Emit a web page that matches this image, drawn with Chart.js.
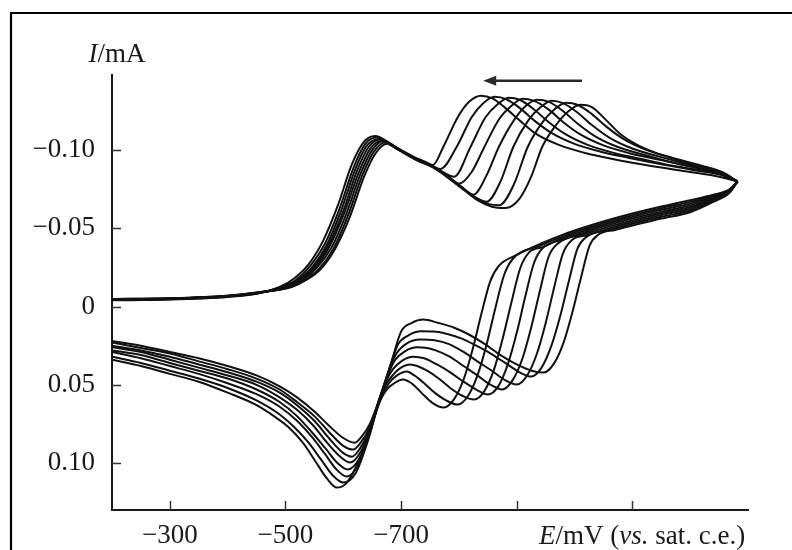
<!DOCTYPE html>
<html><head><meta charset="utf-8">
<script src="https://cdn.jsdelivr.net/npm/chart.js@4.4.0/dist/chart.umd.min.js"></script>
<style>html,body{margin:0;padding:0;background:#fff;}canvas{display:block;}</style>
</head><body>
<canvas id="c" width="792" height="550"></canvas>
<script>
// Tick values and labels
const xTicks = [-300, -500, -700, -900, -1100];
const xTickLabels = ['\u2212300', '\u2212500', '\u2212700', '', ''];
const yTicks = [-0.10, -0.05, 0, 0.05, 0.10];
const yTickLabels = ['\u22120.10', '\u22120.05', '0', '0.05', '0.10'];

// Potential E (mV vs. sat. c.e.) and current I (mA), one forward and one reverse sweep per cycle
const cycle1Fwd = [[-200,-0.0049],[-300,-0.0054],[-400,-0.0070],[-450,-0.0090],[-511,-0.0125],[-536,-0.017],[-561,-0.024],[-586,-0.037],[-611,-0.057],[-636,-0.083],[-656,-0.098],[-676,-0.104],[-698,-0.100],[-727,-0.094],[-757,-0.089],[-782,-0.082],[-807,-0.075],[-832,-0.068],[-857,-0.0638],[-880,-0.063],[-905,-0.069],[-925,-0.083],[-944,-0.102],[-970,-0.117],[-990,-0.125],[-1010,-0.129],[-1030,-0.1275],[-1055,-0.119],[-1080,-0.110],[-1110,-0.103],[-1150,-0.097],[-1200,-0.091],[-1245,-0.086],[-1282,-0.080]];
const cycle1Rev = [[-1282,-0.080],[-1268,-0.0727],[-1240,-0.0669],[-1200,-0.0603],[-1150,-0.0563],[-1100,-0.0518],[-1070,-0.049],[-1041,-0.0459],[-1026,-0.039],[-1011,-0.0183],[-996,0.004],[-981,0.023],[-964,0.0366],[-946,0.0422],[-926,0.041],[-900,0.037],[-872,0.031],[-845,0.024],[-818,0.018],[-792,0.0135],[-765,0.0105],[-738,0.0083],[-718,0.0105],[-700,0.016],[-682,0.037],[-664,0.0575],[-646,0.075],[-632,0.083],[-620,0.087],[-600,0.084],[-575,0.076],[-550,0.067],[-520,0.058],[-490,0.051],[-450,0.044],[-400,0.038],[-350,0.033],[-300,0.029],[-250,0.025],[-200,0.022]];

const cycle2Fwd = [[-200,-0.0048],[-300,-0.0053],[-400,-0.0069],[-450,-0.0089],[-508,-0.0125],[-533,-0.017],[-558,-0.024],[-583,-0.037],[-608,-0.058],[-633,-0.084],[-653,-0.099],[-673,-0.105],[-696,-0.100],[-725,-0.094],[-755,-0.089],[-780,-0.083],[-805,-0.076],[-830,-0.069],[-852,-0.0655],[-870,-0.0648],[-895,-0.078],[-919,-0.102],[-945,-0.118],[-965,-0.126],[-985,-0.1303],[-1005,-0.129],[-1030,-0.123],[-1055,-0.115],[-1085,-0.107],[-1125,-0.100],[-1170,-0.095],[-1220,-0.090],[-1255,-0.086],[-1282,-0.080]];
const cycle2Rev = [[-1282,-0.080],[-1268,-0.073],[-1240,-0.0675],[-1200,-0.0614],[-1150,-0.0574],[-1100,-0.0529],[-1060,-0.0489],[-1020,-0.0444],[-1005,-0.037],[-990,-0.016],[-975,0.0064],[-960,0.025],[-943,0.039],[-925,0.0447],[-905,0.042],[-880,0.036],[-855,0.030],[-830,0.025],[-805,0.0205],[-780,0.0175],[-757,0.016],[-735,0.0158],[-712,0.0185],[-695,0.024],[-682,0.037],[-664,0.0575],[-646,0.077],[-630,0.087],[-617,0.0914],[-600,0.089],[-575,0.080],[-550,0.070],[-520,0.061],[-490,0.053],[-450,0.046],[-400,0.040],[-350,0.035],[-300,0.030],[-250,0.0265],[-200,0.023]];

const cycle3Fwd = [[-200,-0.0047],[-300,-0.0052],[-400,-0.0068],[-450,-0.0088],[-505,-0.0125],[-530,-0.017],[-555,-0.025],[-580,-0.038],[-605,-0.059],[-630,-0.085],[-650,-0.100],[-670,-0.106],[-694,-0.101],[-723,-0.095],[-753,-0.090],[-778,-0.084],[-803,-0.077],[-828,-0.070],[-848,-0.067],[-872,-0.080],[-894,-0.102],[-920,-0.119],[-940,-0.127],[-960,-0.1316],[-980,-0.130],[-1005,-0.124],[-1030,-0.116],[-1060,-0.108],[-1100,-0.101],[-1145,-0.096],[-1195,-0.091],[-1240,-0.087],[-1282,-0.080]];
const cycle3Rev = [[-1282,-0.080],[-1268,-0.0734],[-1240,-0.0682],[-1200,-0.0625],[-1150,-0.0585],[-1100,-0.054],[-1060,-0.050],[-1020,-0.0455],[-995,-0.0424],[-980,-0.034],[-965,-0.0127],[-950,0.0106],[-935,0.030],[-918,0.044],[-900,0.0498],[-880,0.047],[-857,0.041],[-832,0.035],[-808,0.029],[-783,0.024],[-758,0.0215],[-733,0.021],[-710,0.0235],[-692,0.030],[-680,0.040],[-664,0.0575],[-646,0.078],[-630,0.090],[-615,0.0959],[-598,0.093],[-575,0.084],[-550,0.073],[-520,0.063],[-490,0.055],[-450,0.048],[-400,0.042],[-350,0.037],[-300,0.032],[-250,0.028],[-200,0.025]];

const cycle4Fwd = [[-200,-0.0046],[-300,-0.0051],[-400,-0.0067],[-450,-0.0087],[-502,-0.0125],[-527,-0.017],[-552,-0.025],[-577,-0.039],[-602,-0.060],[-627,-0.086],[-647,-0.101],[-667,-0.106],[-692,-0.101],[-722,-0.095],[-752,-0.090],[-777,-0.084],[-802,-0.077],[-825,-0.0715],[-848,-0.084],[-869,-0.102],[-895,-0.119],[-915,-0.128],[-935,-0.1322],[-955,-0.131],[-980,-0.125],[-1005,-0.117],[-1035,-0.109],[-1075,-0.102],[-1120,-0.097],[-1170,-0.092],[-1220,-0.088],[-1255,-0.085],[-1282,-0.080]];
const cycle4Rev = [[-1282,-0.080],[-1268,-0.0737],[-1240,-0.0689],[-1200,-0.0636],[-1150,-0.0596],[-1100,-0.0551],[-1060,-0.0511],[-1020,-0.0466],[-970,-0.040],[-955,-0.0317],[-940,-0.010],[-925,0.0134],[-910,0.033],[-893,0.047],[-875,0.053],[-855,0.050],[-832,0.044],[-808,0.038],[-784,0.032],[-760,0.028],[-745,0.0265],[-728,0.026],[-707,0.0285],[-690,0.034],[-678,0.043],[-664,0.0575],[-646,0.079],[-630,0.093],[-612,0.0997],[-595,0.096],[-572,0.087],[-548,0.076],[-520,0.066],[-490,0.058],[-450,0.050],[-400,0.044],[-350,0.039],[-300,0.034],[-250,0.029],[-200,0.026]];

const cycle5Fwd = [[-200,-0.0045],[-300,-0.005],[-400,-0.0066],[-450,-0.0086],[-499,-0.0125],[-524,-0.017],[-549,-0.025],[-574,-0.039],[-599,-0.060],[-624,-0.087],[-644,-0.102],[-664,-0.107],[-690,-0.102],[-720,-0.096],[-750,-0.091],[-775,-0.085],[-800,-0.0785],[-822,-0.086],[-844,-0.102],[-870,-0.120],[-890,-0.128],[-910,-0.1329],[-930,-0.1315],[-955,-0.126],[-980,-0.118],[-1010,-0.110],[-1050,-0.103],[-1095,-0.098],[-1145,-0.094],[-1195,-0.090],[-1240,-0.086],[-1282,-0.080]];
const cycle5Rev = [[-1282,-0.080],[-1268,-0.074],[-1240,-0.0695],[-1200,-0.0647],[-1150,-0.0607],[-1100,-0.0562],[-1060,-0.0522],[-1020,-0.0477],[-980,-0.0427],[-945,-0.0374],[-930,-0.028],[-915,-0.0067],[-900,0.0168],[-885,0.0365],[-868,0.051],[-850,0.0562],[-830,0.053],[-808,0.048],[-785,0.042],[-762,0.037],[-740,0.033],[-721,0.032],[-702,0.0345],[-686,0.040],[-675,0.047],[-664,0.0575],[-646,0.080],[-628,0.097],[-608,0.1041],[-590,0.100],[-570,0.091],[-545,0.080],[-520,0.070],[-490,0.061],[-450,0.053],[-400,0.046],[-350,0.041],[-300,0.036],[-250,0.031],[-200,0.028]];

const cycle6Fwd = [[-200,-0.0044],[-300,-0.0049],[-400,-0.0065],[-450,-0.0085],[-496,-0.0125],[-521,-0.017],[-546,-0.025],[-571,-0.039],[-596,-0.061],[-621,-0.088],[-641,-0.103],[-661,-0.107],[-687,-0.102],[-718,-0.096],[-748,-0.091],[-772,-0.086],[-792,-0.083],[-820,-0.102],[-846,-0.121],[-866,-0.129],[-886,-0.1335],[-906,-0.132],[-930,-0.126],[-955,-0.118],[-985,-0.110],[-1025,-0.103],[-1070,-0.098],[-1120,-0.094],[-1170,-0.090],[-1220,-0.087],[-1260,-0.084],[-1282,-0.080]];
const cycle6Rev = [[-1282,-0.080],[-1268,-0.0743],[-1240,-0.0702],[-1200,-0.0658],[-1150,-0.0618],[-1100,-0.0573],[-1060,-0.0533],[-1020,-0.0488],[-980,-0.0438],[-945,-0.038],[-921,-0.0345],[-906,-0.0245],[-891,-0.003],[-876,0.020],[-861,0.040],[-844,0.054],[-826,0.0594],[-806,0.057],[-785,0.052],[-765,0.046],[-745,0.041],[-728,0.038],[-716,0.037],[-698,0.0395],[-683,0.045],[-672,0.051],[-662,0.060],[-646,0.081],[-626,0.101],[-606,0.1086],[-588,0.104],[-568,0.094],[-545,0.083],[-520,0.073],[-490,0.064],[-450,0.056],[-400,0.049],[-350,0.043],[-300,0.038],[-250,0.033],[-200,0.029]];

const cycle7Fwd = [[-200,-0.0042],[-300,-0.0047],[-400,-0.0064],[-450,-0.0084],[-493,-0.0125],[-518,-0.017],[-543,-0.026],[-568,-0.040],[-593,-0.062],[-618,-0.089],[-638,-0.104],[-658,-0.108],[-685,-0.103],[-716,-0.096],[-746,-0.091],[-768,-0.088],[-796,-0.102],[-822,-0.121],[-842,-0.130],[-862,-0.1341],[-882,-0.1325],[-905,-0.127],[-930,-0.119],[-960,-0.111],[-1000,-0.104],[-1045,-0.099],[-1095,-0.095],[-1150,-0.091],[-1210,-0.087],[-1255,-0.084],[-1282,-0.080]];
const cycle7Rev = [[-1282,-0.080],[-1268,-0.0747],[-1240,-0.0708],[-1200,-0.0669],[-1150,-0.0629],[-1100,-0.0584],[-1060,-0.0544],[-1020,-0.0499],[-980,-0.0449],[-940,-0.0389],[-893,-0.0304],[-878,-0.020],[-863,0.001],[-848,0.024],[-833,0.043],[-816,0.057],[-798,0.0626],[-778,0.060],[-758,0.055],[-740,0.049],[-723,0.044],[-710,0.0415],[-693,0.044],[-679,0.049],[-668,0.056],[-658,0.066],[-644,0.084],[-622,0.106],[-600,0.1125],[-582,0.108],[-562,0.098],[-540,0.087],[-515,0.077],[-490,0.069],[-450,0.060],[-400,0.052],[-350,0.046],[-300,0.041],[-250,0.036],[-200,0.032]];

const cycle8Fwd = [[-200,-0.0040],[-300,-0.0045],[-400,-0.0062],[-450,-0.0082],[-490,-0.0125],[-515,-0.018],[-540,-0.027],[-565,-0.042],[-590,-0.064],[-615,-0.091],[-635,-0.105],[-655,-0.109],[-682,-0.104],[-715,-0.096],[-740,-0.0915],[-755,-0.0905],[-773,-0.102],[-798,-0.121],[-818,-0.131],[-838,-0.1348],[-858,-0.133],[-880,-0.127],[-905,-0.119],[-935,-0.110],[-975,-0.103],[-1020,-0.098],[-1070,-0.094],[-1130,-0.090],[-1200,-0.086],[-1250,-0.083],[-1282,-0.080]];
const cycle8Rev = [[-1282,-0.080],[-1268,-0.075],[-1240,-0.0715],[-1200,-0.068],[-1150,-0.064],[-1100,-0.0595],[-1060,-0.0555],[-1020,-0.051],[-980,-0.046],[-940,-0.040],[-900,-0.033],[-869,-0.026],[-854,-0.016],[-839,0.0045],[-824,0.027],[-809,0.0457],[-792,0.059],[-774,0.0645],[-754,0.0615],[-735,0.055],[-718,0.049],[-703,0.0466],[-688,0.049],[-675,0.053],[-664,0.060],[-652,0.072],[-638,0.088],[-620,0.104],[-605,0.113],[-589,0.1157],[-572,0.110],[-552,0.099],[-530,0.087],[-505,0.077],[-480,0.070],[-450,0.063],[-400,0.055],[-350,0.048],[-300,0.043],[-250,0.038],[-200,0.034]];

const sweeps = [cycle1Fwd, cycle1Rev, cycle2Fwd, cycle2Rev, cycle3Fwd, cycle3Rev, cycle4Fwd, cycle4Rev,
                cycle5Fwd, cycle5Rev, cycle6Fwd, cycle6Rev, cycle7Fwd, cycle7Rev, cycle8Fwd, cycle8Rev];

// scan-direction arrow (potential range, current level)
const arrowFromE = -1013, arrowToE = -842, arrowI = -0.1444;

const serif = "'Liberation Serif', 'DejaVu Serif', serif";

const decor = {
  id: 'decor',
  beforeDraw(chart) {
    const ctx = chart.ctx;
    ctx.save();
    ctx.fillStyle = '#fff';
    ctx.fillRect(0, 0, chart.width, chart.height);
    ctx.strokeStyle = '#000';
    ctx.lineWidth = 2.2;
    ctx.beginPath();
    ctx.moveTo(11, chart.height + 5);
    ctx.lineTo(11, 13);
    ctx.lineTo(chart.width + 5, 13);
    ctx.stroke();
    ctx.restore();
  },
  afterDraw(chart) {
    const ctx = chart.ctx;
    const xs = chart.scales.x, ys = chart.scales.y;
    const area = chart.chartArea;
    ctx.save();
    // inward tick marks
    ctx.strokeStyle = '#333';
    ctx.lineWidth = 1.5;
    ctx.beginPath();
    xTicks.forEach(v => {
      const px = Math.round(xs.getPixelForValue(v)) + 0.5;
      ctx.moveTo(px, area.bottom); ctx.lineTo(px, area.bottom - 9);
    });
    yTicks.forEach(v => {
      const py = Math.round(ys.getPixelForValue(v)) + 0.5;
      ctx.moveTo(area.left, py); ctx.lineTo(area.left + 9, py);
    });
    ctx.stroke();

    // arrow
    const ax1 = xs.getPixelForValue(arrowFromE), ax2 = xs.getPixelForValue(arrowToE);
    const ay = ys.getPixelForValue(arrowI);
    ctx.strokeStyle = '#2a2a2a';
    ctx.fillStyle = '#2a2a2a';
    ctx.lineWidth = 2.5;
    ctx.beginPath();
    ctx.moveTo(ax1, ay); ctx.lineTo(ax2 + 8, ay);
    ctx.stroke();
    ctx.beginPath();
    ctx.moveTo(ax2, ay); ctx.lineTo(ax2 + 13, ay - 5); ctx.lineTo(ax2 + 13, ay + 5); ctx.closePath();
    ctx.fill();

    // axis titles with mixed italic
    ctx.fillStyle = '#1a1a1a';
    ctx.textBaseline = 'alphabetic';
    const drawRuns = (runs, x, y) => {
      runs.forEach(([txt, italic, size]) => {
        ctx.font = (italic ? 'italic ' : '') + size + 'px ' + serif;
        ctx.fillText(txt, x, y);
        x += ctx.measureText(txt).width;
      });
    };
    const yTitle = [['I', true, 27], ['/mA', false, 27]];
    let w = 0;
    yTitle.forEach(([t, it, s]) => { ctx.font = (it ? 'italic ' : '') + s + 'px ' + serif; w += ctx.measureText(t).width; });
    drawRuns(yTitle, area.left + 5 - w / 2, 62);
    drawRuns([['E', true, 27], ['/mV (', false, 27], ['vs.', true, 27], [' sat. c.e.)', false, 27]], 539, 544);
    ctx.restore();
  }
};

const datasets = sweeps.map((s, i) => ({
  label: 'cycle ' + (Math.floor(i / 2) + 1) + (i % 2 ? ' reverse' : ' forward'),
  data: s.map(([e, c]) => ({ x: e, y: c })),
  borderColor: '#111111',
  borderWidth: 2,
  pointRadius: 0,
  fill: false,
  cubicInterpolationMode: 'monotone'
}));

new Chart(document.getElementById('c'), {
  type: 'line',
  data: { datasets },
  options: {
    responsive: false,
    animation: false,
    layout: { padding: { left: 0, right: 44, top: 75, bottom: 0 } },
    plugins: { legend: { display: false }, tooltip: { enabled: false } },
    scales: {
      x: {
        type: 'linear', reverse: true, min: -1300, max: -200,
        afterBuildTicks: s => { s.ticks = xTicks.map(v => ({ value: v })); },
        afterFit: s => { s.height = 40; },
        grid: { display: false, drawTicks: false },
        border: { display: true, color: '#1a1a1a', width: 2 },
        ticks: {
          autoSkip: false, maxRotation: 0, padding: 10, color: '#1a1a1a',
          font: { family: serif, size: 27 },
          callback: v => { const i = xTicks.indexOf(v); return i >= 0 ? xTickLabels[i] : ''; }
        }
      },
      y: {
        type: 'linear', reverse: true, min: -0.148, max: 0.13,
        afterBuildTicks: s => { s.ticks = yTicks.map(v => ({ value: v })); },
        afterFit: s => { s.width = 112; },
        grid: { display: false, drawTicks: false },
        border: { display: true, color: '#1a1a1a', width: 2 },
        ticks: {
          autoSkip: false, padding: 17, color: '#1a1a1a',
          font: { family: serif, size: 27 },
          callback: v => { const i = yTicks.findIndex(t => Math.abs(t - v) < 1e-9); return i >= 0 ? yTickLabels[i] : ''; }
        }
      }
    }
  },
  plugins: [decor]
});
</script>
</body></html>
